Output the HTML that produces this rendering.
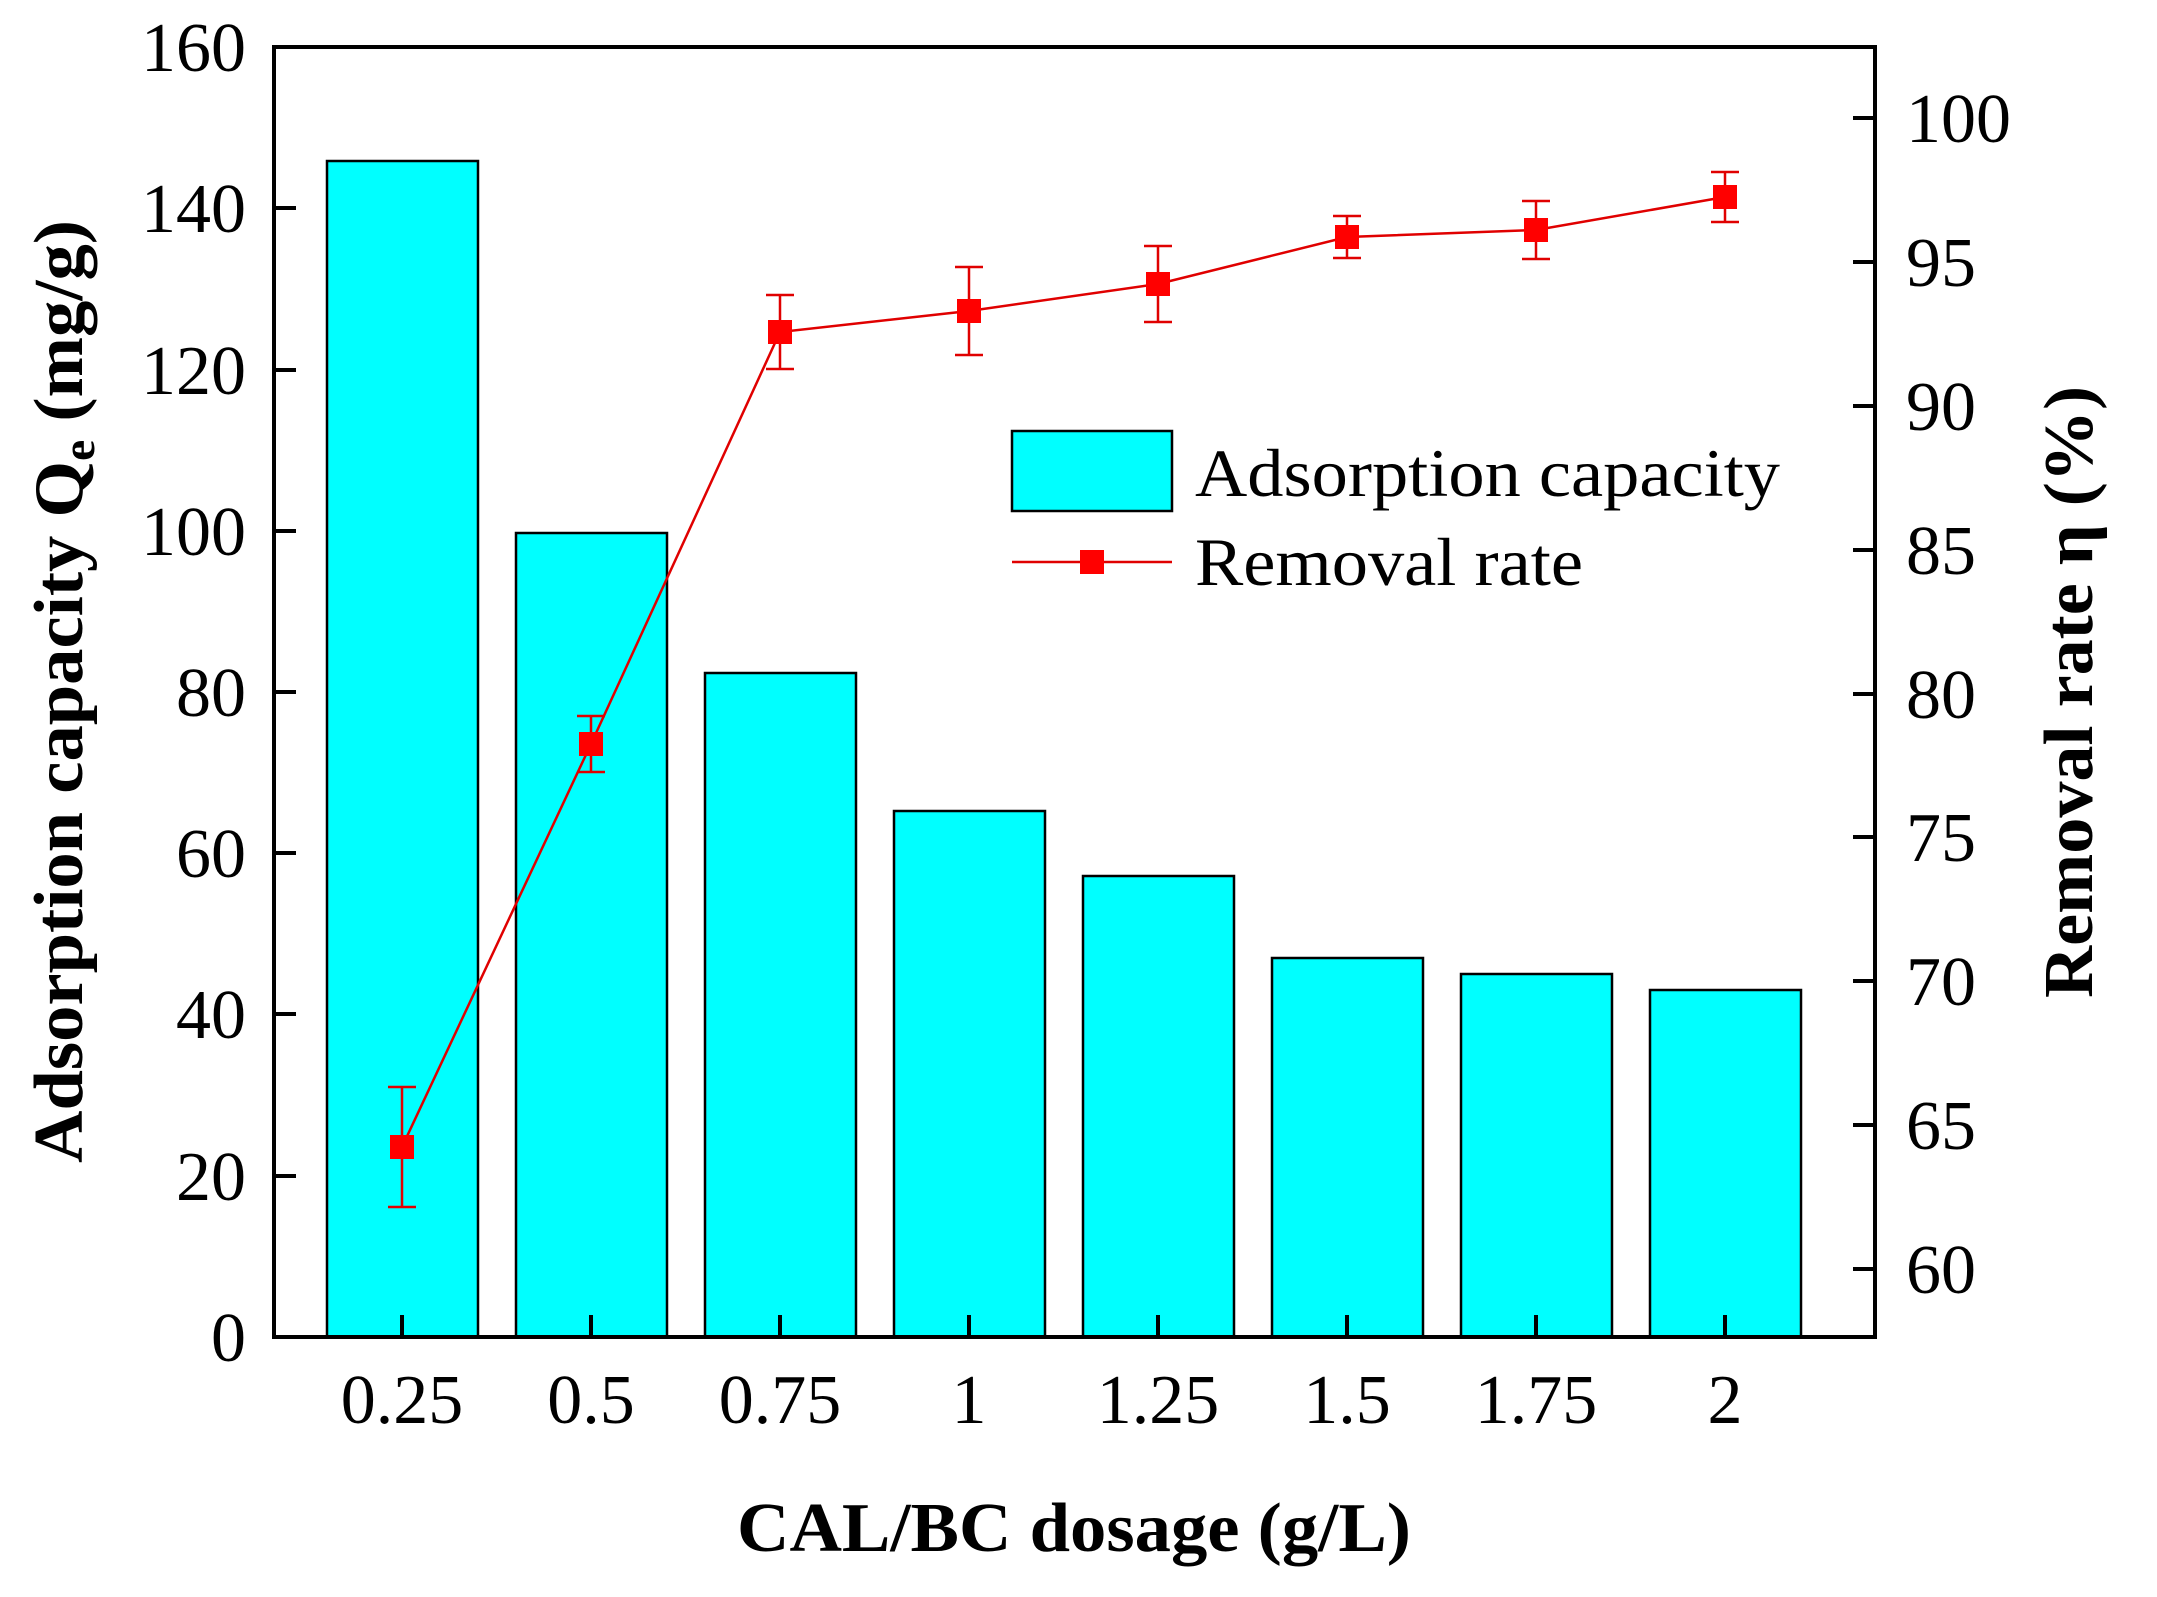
<!DOCTYPE html>
<html><head><meta charset="utf-8"><style>html,body{margin:0;padding:0;background:#fff}svg{display:block}</style></head>
<body>
<svg width="2157" height="1597" viewBox="0 0 2157 1597" xmlns="http://www.w3.org/2000/svg" font-family="'Liberation Serif', serif">
<g fill="#00FFFF" stroke="#000" stroke-width="2.5">
<rect x="327" y="161" width="151" height="1176"/>
<rect x="516" y="533" width="151" height="804"/>
<rect x="705" y="673" width="151" height="664"/>
<rect x="894" y="811" width="151" height="526"/>
<rect x="1083" y="876" width="151" height="461"/>
<rect x="1272" y="958" width="151" height="379"/>
<rect x="1461" y="974" width="151" height="363"/>
<rect x="1650" y="990" width="151" height="347"/>
</g>
<rect x="274" y="47" width="1601" height="1290" fill="none" stroke="#000" stroke-width="4"/>
<g stroke="#000" stroke-width="4">
<line x1="274" y1="1176" x2="296" y2="1176"/><line x1="274" y1="1014" x2="296" y2="1014"/><line x1="274" y1="853" x2="296" y2="853"/><line x1="274" y1="692" x2="296" y2="692"/><line x1="274" y1="531" x2="296" y2="531"/><line x1="274" y1="370" x2="296" y2="370"/><line x1="274" y1="208" x2="296" y2="208"/>
<line x1="1853" y1="118" x2="1875" y2="118"/><line x1="1853" y1="262" x2="1875" y2="262"/><line x1="1853" y1="406" x2="1875" y2="406"/><line x1="1853" y1="550" x2="1875" y2="550"/><line x1="1853" y1="694" x2="1875" y2="694"/><line x1="1853" y1="837" x2="1875" y2="837"/><line x1="1853" y1="981" x2="1875" y2="981"/><line x1="1853" y1="1125" x2="1875" y2="1125"/><line x1="1853" y1="1269" x2="1875" y2="1269"/>
<line x1="402" y1="1315" x2="402" y2="1337"/><line x1="591" y1="1315" x2="591" y2="1337"/><line x1="780" y1="1315" x2="780" y2="1337"/><line x1="969" y1="1315" x2="969" y2="1337"/><line x1="1158" y1="1315" x2="1158" y2="1337"/><line x1="1347" y1="1315" x2="1347" y2="1337"/><line x1="1536" y1="1315" x2="1536" y2="1337"/><line x1="1725" y1="1315" x2="1725" y2="1337"/>
</g>
<g font-size="70" text-anchor="end" fill="#000">
<text x="246" y="1361">0</text><text x="246" y="1200">20</text><text x="246" y="1038">40</text><text x="246" y="877">60</text><text x="246" y="716">80</text><text x="246" y="555">100</text><text x="246" y="394">120</text><text x="246" y="232">140</text><text x="246" y="71">160</text>
</g>
<g font-size="70" fill="#000">
<text x="1906" y="142">100</text><text x="1906" y="286">95</text><text x="1906" y="430">90</text><text x="1906" y="574">85</text><text x="1906" y="718">80</text><text x="1906" y="861">75</text><text x="1906" y="1005">70</text><text x="1906" y="1149">65</text><text x="1906" y="1293">60</text>
</g>
<text x="737" y="1551" font-size="70" font-weight="bold" textLength="674" lengthAdjust="spacingAndGlyphs">CAL/BC dosage (g/L)</text>
<text transform="translate(82,1163) rotate(-90)" font-size="70" font-weight="bold" textLength="943" lengthAdjust="spacingAndGlyphs">Adsorption capacity Q<tspan font-size="46" dy="12">e</tspan><tspan dy="-12"> (mg/g)</tspan></text>
<text transform="translate(2092,998) rotate(-90)" font-size="70" font-weight="bold" textLength="612" lengthAdjust="spacingAndGlyphs">Removal rate η (%)</text>
<g font-size="70" text-anchor="middle" fill="#000">
<text x="402" y="1423">0.25</text><text x="591" y="1423">0.5</text><text x="780" y="1423">0.75</text><text x="969" y="1423">1</text><text x="1158" y="1423">1.25</text><text x="1347" y="1423">1.5</text><text x="1536" y="1423">1.75</text><text x="1725" y="1423">2</text>
</g>
<g stroke="#E00000" stroke-width="2.5" fill="none">
<polyline points="402,1147 591,744 780,332 969,311 1158,284 1347,237 1536,230 1725,197"/>
<path d="M402,1087V1207M388,1087H416M388,1207H416
M591,716V772M577,716H605M577,772H605
M780,295V369M766,295H794M766,369H794
M969,267V355M955,267H983M955,355H983
M1158,246V322M1144,246H1172M1144,322H1172
M1347,216V258M1333,216H1361M1333,258H1361
M1536,201V259M1522,201H1550M1522,259H1550
M1725,172V222M1711,172H1739M1711,222H1739"/>
</g>
<g fill="#FF0000">
<rect x="390" y="1135" width="24" height="24"/><rect x="579" y="732" width="24" height="24"/><rect x="768" y="320" width="24" height="24"/><rect x="957" y="299" width="24" height="24"/><rect x="1146" y="272" width="24" height="24"/><rect x="1335" y="225" width="24" height="24"/><rect x="1524" y="218" width="24" height="24"/><rect x="1713" y="185" width="24" height="24"/>
</g>
<rect x="1012" y="431" width="160" height="80" fill="#00FFFF" stroke="#000" stroke-width="2.5"/>
<line x1="1012" y1="562" x2="1172" y2="562" stroke="#E00000" stroke-width="2.5"/>
<rect x="1080" y="550" width="24" height="24" fill="#FF0000"/>
<text x="1195" y="496" font-size="68" textLength="585" lengthAdjust="spacingAndGlyphs">Adsorption capacity</text>
<text x="1195" y="585" font-size="68" textLength="388" lengthAdjust="spacingAndGlyphs">Removal rate</text>
</svg>
</body></html>
